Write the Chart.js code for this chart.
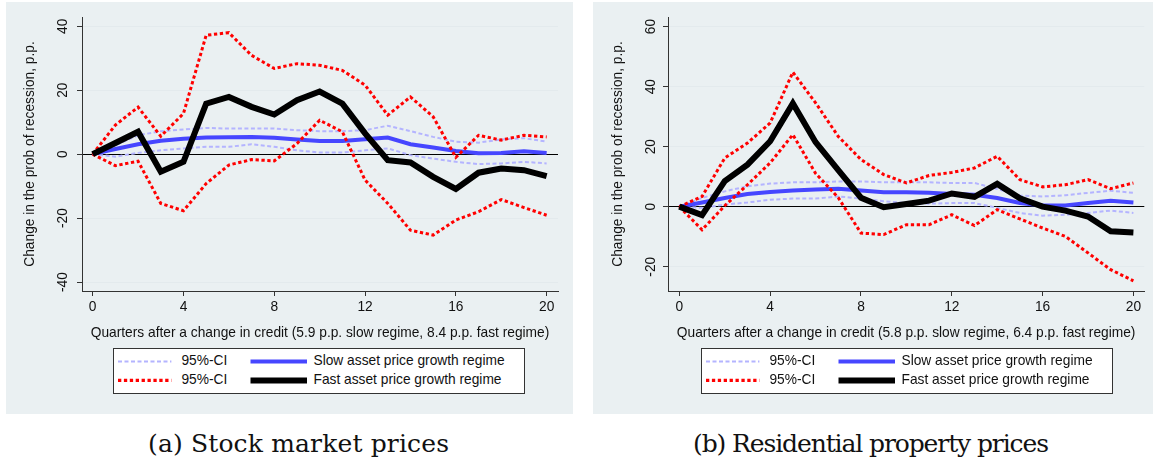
<!DOCTYPE html>
<html>
<head>
<meta charset="utf-8">
<script src="https://cdn.jsdelivr.net/npm/chart.js@4.4.1/dist/chart.umd.min.js"></script>
<style>
  html, body { margin:0; padding:0; background:#fff; }
  body { width:1153px; height:459px; position:relative; overflow:hidden; font-family:"Liberation Sans", Arial, sans-serif; }
  .panel { position:absolute; background:#eaf0f2; }
  canvas { position:absolute; }
  .legend { position:absolute; box-sizing:border-box; border:1px solid #333; background:#fff; width:412px; height:46px; }
  .legend svg { position:absolute; left:0; top:0; }
  .legend span { position:absolute; font-size:13.75px; line-height:16.5px; color:#111; white-space:nowrap; }
  .caption { position:absolute; font-family:"DejaVu Serif", "Liberation Serif", serif; font-size:25px; line-height:25px; color:#111; white-space:nowrap; }
</style>
</head>
<body>
<div class="panel" style="left:6px;top:2px;width:567px;height:412px"></div>
<div class="panel" style="left:593px;top:2px;width:560px;height:412px"></div>
<canvas id="c1" width="580" height="350" style="left:0;top:0"></canvas>
<canvas id="c2" width="573" height="350" style="left:580px;top:0"></canvas>

<div class="legend" id="lg1" style="left:113px;top:348px"></div>
<div class="legend" id="lg2" style="left:701px;top:348px"></div>

<div class="caption" data-left="148" data-w="301" style="left:148px;top:431px">(a) Stock market prices</div>
<div class="caption" data-left="693" data-w="356" style="left:693px;top:431px">(b) Residential property prices</div>

<script>
// ---------- data ----------
const quarters = [0,1,2,3,4,5,6,7,8,9,10,11,12,13,14,15,16,17,18,19,20];
const xTicks = [0,4,8,12,16,20];
const xTickLabels = ["0","4","8","12","16","20"];

// (a) Stock market prices
const stockFast   = [0, 3.5, 7.0, -5.5, -2.4, 15.8, 17.9, 14.8, 12.4, 16.9, 19.6, 15.8, 6.5, -1.9, -2.6, -7.1, -10.9, -5.8, -4.5, -5.0, -6.9];
const stockFastHi = [0, 9.1, 14.7, 5.6, 12.7, 37.2, 38.0, 30.9, 26.8, 28.3, 27.8, 26.2, 21.6, 12.2, 17.9, 11.7, -1.0, 5.9, 4.4, 5.9, 5.4];
const stockFastLo = [0, -3.6, -2.2, -15.4, -17.7, -9.2, -3.4, -1.7, -2.1, 3.3, 10.6, 7.0, -8.1, -15.4, -23.8, -25.3, -20.6, -18.0, -14.2, -16.7, -19.1];
const stockSlow   = [0, 1.6, 3.1, 4.2, 4.8, 5.2, 5.3, 5.4, 5.1, 4.6, 4.1, 4.1, 4.7, 5.2, 3.1, 2.1, 1.0, 0.3, 0.4, 0.9, 0.4];
const stockSlowHi = [0, 2.8, 5.9, 7.2, 7.7, 8.2, 8.0, 8.0, 8.0, 7.5, 7.2, 7.2, 7.5, 8.9, 7.2, 5.4, 3.9, 3.6, 4.6, 5.0, 3.9];
const stockSlowLo = [0, -0.8, 0.4, 1.2, 1.8, 2.3, 2.3, 3.1, 2.3, 1.2, 0.5, 0.5, 1.2, 1.8, -0.3, -1.4, -2.4, -3.1, -2.9, -2.4, -2.9];
const stockYTicks = [-40,-20,0,20,40];

// (b) Residential property prices
const propFast   = [0, -2.8, 8.5, 14.0, 21.8, 34.4, 21.5, 12.2, 3.0, -0.2, 0.9, 2.0, 4.4, 3.3, 7.6, 2.8, 0.0, -1.3, -3.3, -8.2, -8.6];
const propFastHi = [0, 3.4, 16.2, 21.2, 27.9, 44.8, 34.6, 23.4, 15.7, 10.7, 7.9, 10.4, 11.4, 12.9, 16.8, 9.0, 6.6, 7.3, 9.0, 6.0, 7.9];
const propFastLo = [0, -7.7, 0.3, 7.3, 14.6, 24.0, 11.1, 3.0, -8.8, -9.3, -6.0, -6.0, -2.7, -6.3, -1.0, -4.1, -7.1, -9.9, -15.4, -21.0, -24.7];
const propSlow   = [0, 1.4, 2.9, 4.2, 4.9, 5.4, 5.7, 6.0, 5.4, 4.8, 4.8, 4.6, 4.2, 4.0, 2.9, 1.2, 0.4, 0.4, 1.2, 2.0, 1.4];
const propSlowHi = [0, 2.9, 5.1, 6.8, 7.7, 8.1, 8.1, 8.4, 8.4, 8.1, 8.1, 8.1, 7.9, 7.9, 5.9, 3.7, 3.4, 3.8, 4.6, 5.3, 4.6];
const propSlowLo = [0, -0.4, 0.7, 1.4, 2.3, 2.7, 2.7, 3.4, 2.7, 1.8, 1.2, 1.0, 1.2, 1.2, -0.4, -2.1, -3.0, -2.7, -2.1, -1.3, -2.1];
const propYTicks = [-20,0,20,40,60];

const yTitle = "Change in the prob of recession, p.p.";
const xTitleA = "Quarters after a change in credit (5.9 p.p. slow regime, 8.4 p.p. fast regime)";
const xTitleB = "Quarters after a change in credit (5.8 p.p. slow regime, 6.4 p.p. fast regime)";
const legendLabels = ["95%-CI", "Slow asset price growth regime", "95%-CI", "Fast asset price growth regime"];

// ---------- styles ----------
const FONT = '"Liberation Sans", Arial, sans-serif';
const FS = 13.75;
const TXT = '#111';
const C_FAST = '#000000', C_CI_FAST = '#ff0000', C_SLOW = '#4646ff', C_CI_SLOW = '#b4b4ff';
const DASH_RED = [3.3, 2.6], DASH_BLUE = [4, 2.5];

function ds(arr, color, width, dash) {
  return {
    data: quarters.map((x, i) => ({x: x, y: arr[i]})),
    borderColor: color, backgroundColor: color, borderWidth: width,
    borderDash: dash || [], pointRadius: 0, pointHoverRadius: 0,
    tension: 0, fill: false, borderCapStyle: 'butt', borderJoinStyle: 'miter'
  };
}

function build(id, c) {
  new Chart(document.getElementById(id), {
    type: 'line',
    data: { datasets: [
      ds(c.fast, C_FAST, 6),
      ds(c.fastHi, C_CI_FAST, 3, DASH_RED),
      ds(c.fastLo, C_CI_FAST, 3, DASH_RED),
      ds(c.slow, C_SLOW, 4),
      ds(c.slowHi, C_CI_SLOW, 2, DASH_BLUE),
      ds(c.slowLo, C_CI_SLOW, 2, DASH_BLUE)
    ]},
    options: {
      responsive: false, animation: false, devicePixelRatio: 1,
      events: [],
      layout: { padding: { left: c.padL, right: c.padR, top: 17, bottom: 9 } },
      plugins: { legend: { display: false }, tooltip: { enabled: false }, title: { display: false } },
      scales: {
        x: {
          type: 'linear', position: 'bottom', min: c.xMin, max: c.xMax,
          afterBuildTicks: s => { s.ticks = xTicks.map(v => ({value: v})); },
          afterFit: s => { s.height = 50; },
          grid: { drawOnChartArea: false, drawTicks: true, tickLength: 5, tickColor: '#333', color: '#333' },
          border: { display: true, color: '#333', width: 1 },
          ticks: { padding: 3, color: TXT, font: { family: FONT, size: FS }, maxRotation: 0, minRotation: 0, autoSkip: false,
                   callback: (v) => xTickLabels[xTicks.indexOf(v)] },
          title: { display: true, text: c.xTitle, color: TXT, font: { family: FONT, size: FS }, padding: { top: 0, bottom: 0 } }
        },
        y: {
          type: 'linear', position: 'left', min: c.yMin, max: c.yMax,
          afterBuildTicks: s => { s.ticks = c.yTicks.map(v => ({value: v})); },
          afterFit: s => { s.width = c.yW; },
          grid: { color: ctx => (ctx.tick && ctx.tick.value === 0) ? '#000' : '#e3eaed', lineWidth: 1,
                  drawTicks: true, tickLength: 5, tickColor: '#333' },
          border: { display: true, color: '#333', width: 1 },
          ticks: { padding: c.yPad, crossAlign: 'center', minRotation: 90, maxRotation: 90, color: TXT,
                   font: { family: FONT, size: FS }, autoSkip: false, callback: v => String(v) },
          title: { display: true, text: yTitle, color: TXT, font: { family: FONT, size: FS }, padding: { top: 0, bottom: 0 } }
        }
      }
    }
  });
}

build('c1', { fast: stockFast, fastHi: stockFastHi, fastLo: stockFastLo, slow: stockSlow, slowHi: stockSlowHi, slowLo: stockSlowLo,
  yTicks: stockYTicks, yMin: -42.8, yMax: 42.9, xMin: -0.47, xMax: 20.5, xTitle: xTitleA,
  padL: 21.75, yW: 60.25, padR: 22, yPad: 3.8 });
build('c2', { fast: propFast, fastHi: propFastHi, fastLo: propFastLo, slow: propSlow, slowHi: propSlowHi, slowLo: propSlowLo,
  yTicks: propYTicks, yMin: -28.1, yMax: 63.2, xMin: -0.5, xMax: 20.48, xTitle: xTitleB,
  padL: 30, yW: 58, padR: 8.7, yPad: 1.9 });

// ---------- legends (HTML) ----------
function legend(id) {
  const el = document.getElementById(id);
  const ns = 'http://www.w3.org/2000/svg';
  const svg = document.createElementNS(ns, 'svg');
  svg.setAttribute('width', '410'); svg.setAttribute('height', '44');
  const line = (x1, x2, y, color, w, dash) => {
    const l = document.createElementNS(ns, 'line');
    l.setAttribute('x1', x1); l.setAttribute('x2', x2); l.setAttribute('y1', y); l.setAttribute('y2', y);
    l.setAttribute('stroke', color); l.setAttribute('stroke-width', w);
    if (dash) l.setAttribute('stroke-dasharray', dash.join(' '));
    svg.appendChild(l);
  };
  const r1 = 12.4, r2 = 31.4;
  line(4, 57.4, r1, C_CI_SLOW, 2, DASH_BLUE);
  line(4, 57.4, r2, C_CI_FAST, 3.3, DASH_RED);
  line(136.5, 193, r1, C_SLOW, 4);
  line(136.5, 193, r2, C_FAST, 6);
  el.appendChild(svg);
  const txt = (x, y, s) => {
    const sp = document.createElement('span');
    sp.textContent = s; sp.style.left = x + 'px'; sp.style.top = (y - 8.25) + 'px';
    el.appendChild(sp);
  };
  txt(67.4, r1, legendLabels[0]);
  txt(199.5, r1, legendLabels[1]);
  txt(67.4, r2, legendLabels[2]);
  txt(199.5, r2, legendLabels[3]);
}
legend('lg1');
legend('lg2');

// ---------- captions: fit to the reference widths ----------
document.querySelectorAll('.caption').forEach(el => {
  const target = +el.dataset.w;
  const n = el.textContent.length;
  const w = el.getBoundingClientRect().width;
  el.style.letterSpacing = ((target - w) / (n - 1)) + 'px';
});
</script>
</body>
</html>
